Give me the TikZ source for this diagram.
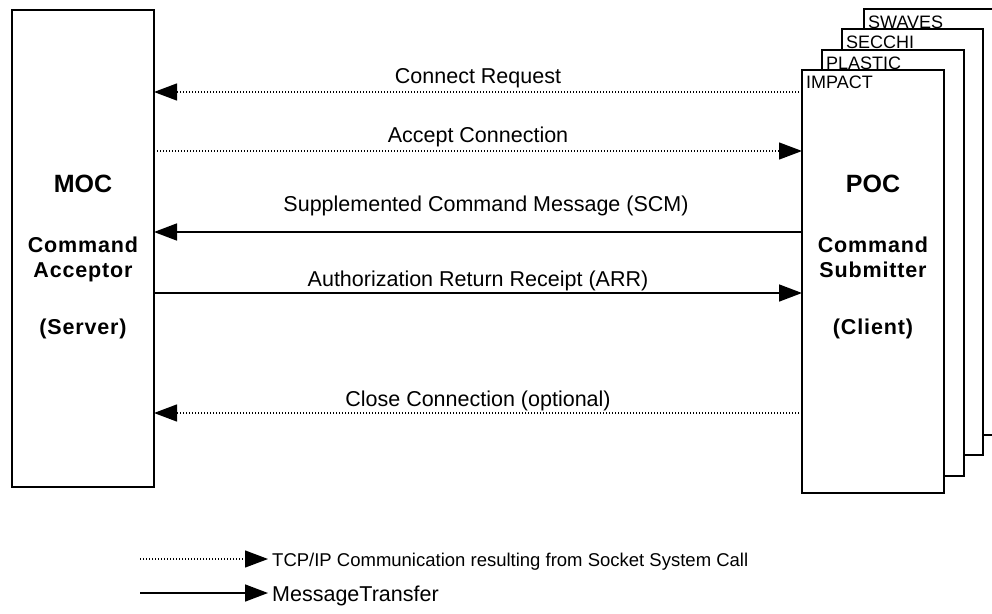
\documentclass[tikz,border=0pt]{standalone}
\usepackage{fontspec}
\setmainfont{Liberation Sans}
\usetikzlibrary{arrows.meta}
\begin{document}
\begin{tikzpicture}[x=1pt,y=-1pt]
\tikzset{
  lbl/.style={font=\fontsize{21.5}{25}\selectfont, inner sep=0pt, anchor=base},
  head/.style={font=\fontsize{25}{30}\selectfont\bfseries, inner sep=0pt, anchor=base},
  sub/.style={font=\fontsize{21.5}{26}\selectfont\bfseries\addfontfeature{LetterSpace=4}, inner sep=0pt, anchor=base},
  tag/.style={font=\fontsize{18}{21}\selectfont, inner sep=0pt, anchor=base west},
  keytext/.style={font=\fontsize{21.5}{25}\selectfont, inner sep=0pt, anchor=base west},
  panel/.style={draw, line width=2pt, fill=white, anchor=north west, outer sep=0pt, inner sep=0pt},
  msg/.style={line width=1.6pt, -{Triangle[length=23pt,width=17pt]}},
  sock/.style={line width=1.3pt, dash pattern=on 1.3pt off 1.7pt, -{Triangle[length=23pt,width=17pt]}},
}
\useasboundingbox (0,0) rectangle (992,613);

% server box
\node[panel, minimum width=142pt, minimum height=477pt] (moc) at (12,10) {};
\node[head] (mocname) at (83,192) {MOC};
\node[sub]  (mocrole1) at (83,252) {Command};
\node[sub]  (mocrole2) at (83,277) {Acceptor};
\node[sub]  (mocsrv) at (83,334) {(Server)};

% stacked client boxes, back to front
\node[panel, minimum width=139pt, minimum height=426pt] (swaves) at (864,9) {};
\node[tag] (swavestag) at (868,28) {SWAVES};
\node[panel, minimum width=141pt, minimum height=426pt] (secchi) at (842,29) {};
\node[tag] (secchitag) at (846,48) {SECCHI};
\node[panel, minimum width=142pt, minimum height=426pt] (plastic) at (822,50) {};
\node[tag] (plastictag) at (826,69) {PLASTIC};
\node[panel, minimum width=142pt, minimum height=423pt] (poc) at (802,70) {};
\node[tag] (impacttag) at (806,88) {IMPACT};

\node[head] (pocname) at (873,192) {POC};
\node[sub]  (pocrole1) at (873,252) {Command};
\node[sub]  (pocrole2) at (873,277) {Submitter};
\node[sub]  (poccli) at (873,334) {(Client)};

% message rows
\coordinate (r1) at (0,92);
\coordinate (r2) at (0,151);
\coordinate (r3) at (0,232);
\coordinate (r4) at (0,293);
\coordinate (r5) at (0,413);

\draw[sock] (poc.west |- r1) -- (moc.east |- r1);
\node[lbl] (l1) at (478,83) {Connect Request};
\draw[sock] (moc.east |- r2) -- (poc.west |- r2);
\node[lbl] (l2) at (478,142) {Accept Connection};
\draw[msg] (poc.west |- r3) -- (moc.east |- r3);
\node[lbl] (l3) at (486,211) {Supplemented Command Message (SCM)};
\draw[msg] (moc.east |- r4) -- (poc.west |- r4);
\node[lbl] (l4) at (478,286) {Authorization Return Receipt (ARR)};
\draw[sock] (poc.west |- r5) -- (moc.east |- r5);
\node[lbl] (l5) at (478,406) {Close Connection (optional)};

% legend
\coordinate (k1s) at (140,559);
\coordinate (k1e) at (268,559);
\coordinate (k2s) at (140,593);
\coordinate (k2e) at (268,593);
\draw[sock] (k1s) -- (k1e);
\node[keytext, font=\fontsize{18.5}{22}\selectfont] (k1t) at (272,566) {TCP/IP Communication resulting from Socket System Call};
\draw[msg] (k2s) -- (k2e);
\node[keytext] (k2t) at (272,601) {MessageTransfer};
\end{tikzpicture}
\end{document}
